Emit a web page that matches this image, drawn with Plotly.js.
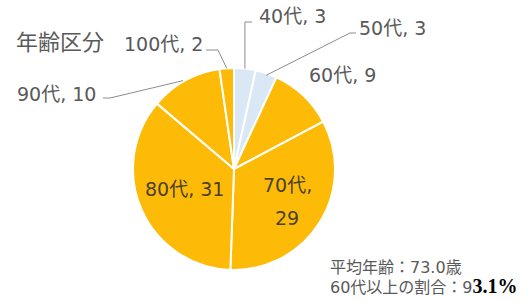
<!DOCTYPE html>
<html><head><meta charset="utf-8">
<script src="https://cdn.plot.ly/plotly-3.0.1.min.js"></script>
<style>html,body{margin:0;padding:0;background:#fff}</style>
</head><body>
<div id="chart" style="width:531px;height:301px"></div>
<script>
const categories = ["40代","50代","60代","70代","80代","90代","100代"];
const counts = [3,3,9,29,31,10,2];
const sliceColors = ["#DAE7F5","#DAE7F5","#FDBB08","#FDBB08","#FDBB08","#FDBB08","#FDBB08"];
const chartTitle = "年齢区分";
const noteLines = ["平均年齢：73.0歳","60代以上の割合：9"];
const noteTail = "3.1%";

const W = 531, H = 301;
const cx = 234, cy = 169, R = 101;
const px = x => x / W;
const py = y => 1 - y / H;

// mid-angle edge point of each slice, from data
const total = counts.reduce((a,b)=>a+b,0);
function edgePoint(i){
  let before = 0;
  for (let k=0;k<i;k++) before += counts[k];
  const th = (before + counts[i]/2) / total * 2 * Math.PI;
  return [cx + R*Math.sin(th), cy - R*Math.cos(th)];
}

const gray = "#595959";
const inGray = "#4a4030";
const fontF = "DejaVu Sans, Noto Sans CJK JP, sans-serif";
const lab = (i) => categories[i] + ", " + counts[i];

// label placement (layout)
const labelPos = {
  0: {x:257, y:16},
  1: {x:357, y:28},
  2: {x:307, y:75},
  5: {x:15, y:94},
  6: {x:122, y:44}
};
const annotations = [];
Object.keys(labelPos).forEach(k => {
  const p = labelPos[k];
  annotations.push({xref:"paper",yref:"paper",x:px(p.x),y:py(p.y),xanchor:"left",yanchor:"middle",
    text:lab(+k),showarrow:false,font:{family:fontF,size:19,color:gray}});
});
annotations.push({xref:"paper",yref:"paper",x:px(143),y:py(189),xanchor:"left",yanchor:"middle",
  text:lab(4),showarrow:false,font:{family:fontF,size:19,color:inGray}});
annotations.push({xref:"paper",yref:"paper",x:px(287),y:py(185),xanchor:"center",yanchor:"middle",
  text:categories[3]+",",showarrow:false,font:{family:fontF,size:19,color:inGray}});
annotations.push({xref:"paper",yref:"paper",x:px(287),y:py(218),xanchor:"center",yanchor:"middle",
  text:String(counts[3]),showarrow:false,font:{family:fontF,size:19,color:inGray}});
annotations.push({xref:"paper",yref:"paper",x:px(14),y:py(42),xanchor:"left",yanchor:"middle",
  text:chartTitle,showarrow:false,font:{family:fontF,size:22,color:gray}});
annotations.push({xref:"paper",yref:"paper",x:px(328),y:py(267),xanchor:"left",yanchor:"middle",
  text:noteLines[0],showarrow:false,font:{family:fontF,size:16,color:gray}});
annotations.push({xref:"paper",yref:"paper",x:px(328),y:py(286),xanchor:"left",yanchor:"middle",
  text:noteLines[1]+"<span style='font-family:Liberation Serif;font-weight:bold;font-size:20px;fill:#000'>"+noteTail+"</span>",
  showarrow:false,font:{family:fontF,size:16,color:gray}});

// leader lines
const lineStyle = {color:"#8c8c8c",width:1};
function pathShape(pts){
  const d = pts.map((p,j)=>(j?"L":"M")+px(p[0]).toFixed(4)+","+py(p[1]).toFixed(4)).join(" ");
  return {type:"path",xref:"paper",yref:"paper",path:d,line:lineStyle};
}
const e0 = edgePoint(0), e1 = edgePoint(1), e5 = edgePoint(5), e6 = edgePoint(6);
const shapes = [
  pathShape([[252,22],[e0[0],22],[e0[0],e0[1]]]),
  pathShape([[356,33],[350,33],[e1[0],e1[1]+2]]),
  pathShape([[103,98],[110,98],[e5[0]-2,e5[1]]]),
  pathShape([[206,50],[218,50],[e6[0],e6[1]]])
];

const data = [{
  type:"pie",
  labels:categories,
  values:counts,
  sort:false,
  direction:"clockwise",
  rotation:0,
  textinfo:"none",
  hoverinfo:"label+value",
  marker:{colors:sliceColors,line:{color:"#ffffff",width:2}},
  domain:{x:[px(cx-R),px(cx+R)],y:[py(cy+R),py(cy-R)]},
  showlegend:false
}];

Plotly.newPlot("chart", data, {
  width:W,height:H,
  margin:{l:0,r:0,t:0,b:0},
  paper_bgcolor:"#fff",
  showlegend:false,
  annotations:annotations,
  shapes:shapes
}, {staticPlot:true});
</script>
</body></html>
